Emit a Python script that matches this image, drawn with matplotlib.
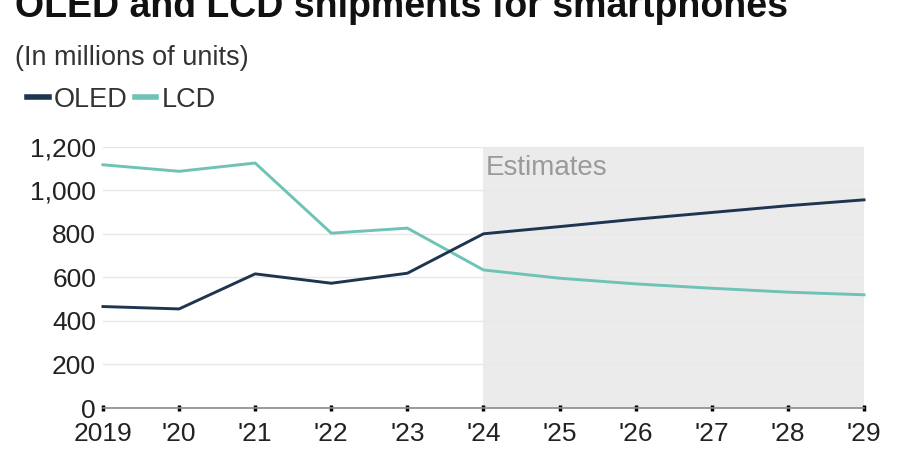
import matplotlib
matplotlib.use("Agg")
import matplotlib.pyplot as plt
from matplotlib.lines import Line2D

plt.rcParams['font.family'] = ['Liberation Sans', 'DejaVu Sans']

# data (millions of units)
years = [2019, 2020, 2021, 2022, 2023, 2024, 2025, 2026, 2027, 2028, 2029]
year_labels = ['2019', "'20", "'21", "'22", "'23", "'24", "'25", "'26", "'27", "'28", "'29"]
oled = [466, 455, 616, 573, 619, 800, 833, 867, 898, 929, 956]
lcd = [1117, 1087, 1125, 803, 826, 634, 596, 570, 550, 532, 520]
estimate_start = 2024
yticks = [0, 200, 400, 600, 800, 1000, 1200]

OLED_COLOR = '#1e3550'
LCD_COLOR = '#6fc3b6'
TEXT_COLOR = '#333333'

fig = plt.figure(figsize=(9, 4.5), dpi=100)
ax = fig.add_axes([0.1144, 0.0933, 0.8456, 0.5807])

# shaded estimates region
ax.axvspan(estimate_start, years[-1], color='#ebebeb', zorder=0, lw=0)
ax.text(estimate_start + 0.03, 1160, 'Estimates', color='#9a9a9a', fontsize=20,
        va='top', ha='left')

ax.plot(years, lcd, color=LCD_COLOR, lw=2.1, zorder=3, clip_on=False)
ax.plot(years, oled, color=OLED_COLOR, lw=2.1, zorder=4, clip_on=False)

ax.set_xlim(years[0], years[-1])
ax.set_ylim(0, 1200)
ax.set_yticks(yticks)
ax.set_yticklabels([f'{v:,}' for v in yticks])
ax.set_xticks(years)
ax.set_xticklabels(year_labels)

ax.grid(axis='y', color='#e8e8e8', lw=1)
ax.set_axisbelow(True)
for s in ['top', 'right', 'left']:
    ax.spines[s].set_visible(False)
ax.spines['bottom'].set_color('#8a8a8a')
ax.spines['bottom'].set_linewidth(1.2)
ax.spines['bottom'].set_zorder(5)

ax.tick_params(axis='y', length=0, pad=5, labelsize=19, labelcolor='#222222')
ax.tick_params(axis='x', direction='inout', length=4, width=2.5, color='black',
               pad=8, labelsize=19, labelcolor='#222222')
ax.set_facecolor('white')

# title and subtitle
fig.text(0.017, 1.024, 'OLED and LCD shipments for smartphones', fontsize=27,
         fontweight='bold', ha='left', va='top', color='#111111')
fig.text(0.017, 0.872, '(In millions of units)', fontsize=19.5, ha='left',
         va='center', color=TEXT_COLOR)

# legend
handles = [Line2D([0], [0], color=OLED_COLOR, lw=4),
           Line2D([0], [0], color=LCD_COLOR, lw=4)]
fig.legend(handles, ['OLED', 'LCD'], loc='center left',
           bbox_to_anchor=(0.003, 0.778), frameon=False, ncol=2,
           handlelength=0.8, handletextpad=0.2, columnspacing=0.25,
           fontsize=19.5, labelcolor=TEXT_COLOR)

fig.savefig('out.png', dpi=100, facecolor='white')
